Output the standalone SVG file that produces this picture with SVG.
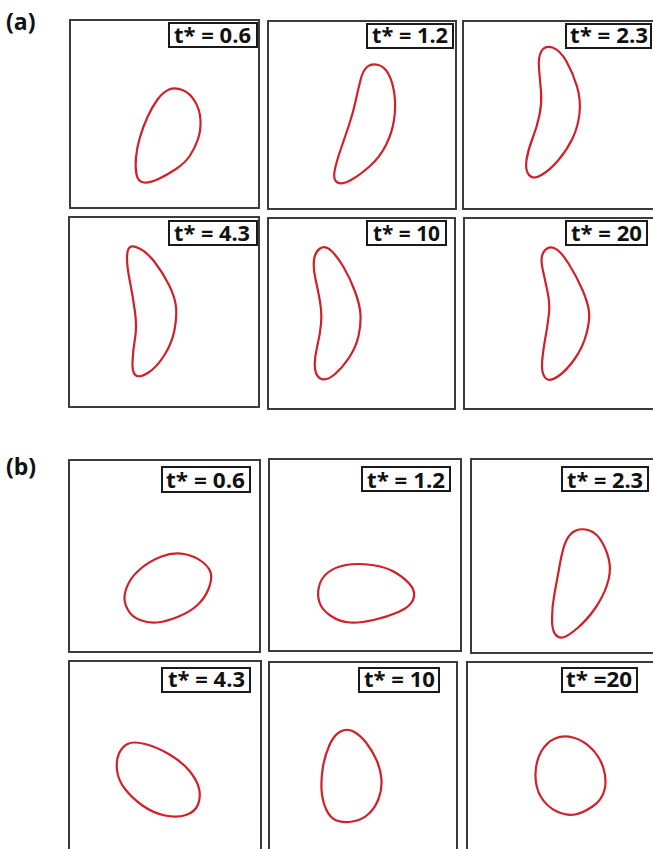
<svg xmlns="http://www.w3.org/2000/svg" width="653" height="849" viewBox="0 0 653 849">
<style>
.panel{fill:#fff;stroke:#3c3c3c;stroke-width:2}
.lbox{fill:#fff;stroke:#1a1a1a;stroke-width:2}
.lbl{font-family:"Open Sans","DejaVu Sans",sans-serif;font-weight:bold;font-size:22px;fill:#111}
.tag{font-family:"Open Sans","DejaVu Sans",sans-serif;font-weight:bold;font-size:23px;fill:#111}
.shape{fill:none;stroke:#d0202a;stroke-width:2.2;stroke-linejoin:round}
</style>
<rect width="653" height="849" fill="#fff"/>
<text class="tag" x="6" y="30">(a)</text>
<text class="tag" x="6" y="475">(b)</text>

<g id="a1">
<rect class="panel" x="70" y="20" width="189" height="188"/>
<rect class="lbox" x="169" y="23" width="88" height="24"/>
<text class="lbl" x="174" y="43" textLength="77" lengthAdjust="spacingAndGlyphs">t* = 0.6</text>
<path class="shape" d="M 182.5,90 Q 190,93 195,101.5 Q 200,110 200.5,120 Q 201,130 198,139 Q 195,148 190,155.5 Q 185,163 176,169 Q 167,175 158.5,179 Q 150,183 144,182.5 Q 138,182 136.5,174.5 Q 135,167 136,157 Q 137,147 140,137 Q 143,127 147.5,117 Q 152,107 157.5,99.5 Q 163,92 169,89.5 Q 175,87 182.5,90 Z"/>
</g>
<g id="a2">
<rect class="panel" x="268" y="21" width="188" height="188"/>
<rect class="lbox" x="367" y="24" width="86" height="24"/>
<text class="lbl" x="372" y="43" textLength="76" lengthAdjust="spacingAndGlyphs">t* = 1.2</text>
<path class="shape" d="M 378.5,65 Q 385,67 389,75 Q 393,83 394.5,95 Q 396,107 394,120 Q 392,133 386,145 Q 380,157 370,166 Q 360,175 351,180 Q 342,185 337.5,182.5 Q 333,180 334.5,171.5 Q 336,163 340.5,150 Q 345,137 349,125 Q 353,113 355.5,101.5 Q 358,90 360.5,80 Q 363,70 367.5,66.5 Q 372,63 378.5,65 Z"/>
</g>
<g id="a3">
<rect class="panel" x="463" y="21" width="200" height="188"/>
<rect class="lbox" x="566" y="24" width="85" height="24"/>
<text class="lbl" x="570" y="43" textLength="78" lengthAdjust="spacingAndGlyphs">t* = 2.3</text>
<path class="shape" d="M 552.5,47.5 Q 560,50 566.5,61.5 Q 573,73 577,86.5 Q 581,100 579.5,113.5 Q 578,127 572.5,138.5 Q 567,150 558.5,160 Q 550,170 541.5,175 Q 533,180 529,175 Q 525,170 526.5,160 Q 528,150 532.5,138.5 Q 537,127 539.5,115 Q 542,103 541,91.5 Q 540,80 539,68.5 Q 538,57 541.5,51 Q 545,45 552.5,47.5 Z"/>
</g>
<g id="a4">
<rect class="panel" x="69" y="217" width="190" height="190"/>
<rect class="lbox" x="169" y="221" width="88" height="24"/>
<text class="lbl" x="174" y="241" textLength="76" lengthAdjust="spacingAndGlyphs">t* = 4.3</text>
<path class="shape" d="M 139.5,248.5 Q 147,252 155,262.5 Q 163,273 169,285 Q 175,297 176,307 Q 177,317 174.5,330 Q 172,343 164.5,355 Q 157,367 148.5,372.5 Q 140,378 136,375.5 Q 132,373 132.5,361.5 Q 133,350 135,338.5 Q 137,327 135,312 Q 133,297 130,282 Q 127,267 127,258.5 Q 127,250 129.5,247.5 Q 132,245 139.5,248.5 Z"/>
</g>
<g id="a5">
<rect class="panel" x="268" y="218" width="187" height="191"/>
<rect class="lbox" x="367" y="221" width="79" height="24"/>
<text class="lbl" x="373" y="241" textLength="67" lengthAdjust="spacingAndGlyphs">t* = 10</text>
<path class="shape" d="M 331,250.5 Q 337,256 343.5,267 Q 350,278 355,291.5 Q 360,305 360.5,315 Q 361,325 358.5,336 Q 356,347 349.5,357 Q 343,367 335,374 Q 327,381 321.5,379 Q 316,377 315,368.5 Q 314,360 317,347.5 Q 320,335 321,324 Q 322,313 320,301.5 Q 318,290 315.5,279 Q 313,268 314,260 Q 315,252 320,248.5 Q 325,245 331,250.5 Z"/>
</g>
<g id="a6">
<rect class="panel" x="464" y="218" width="200" height="191"/>
<rect class="lbox" x="566" y="221" width="81" height="24"/>
<text class="lbl" x="571" y="241" textLength="71" lengthAdjust="spacingAndGlyphs">t* = 20</text>
<path class="shape" d="M 554,248 Q 560,250 568.5,263.5 Q 577,277 582.5,290 Q 588,303 589,311.5 Q 590,320 586.5,333.5 Q 583,347 575,358.5 Q 567,370 558.5,376 Q 550,382 546,378.5 Q 542,375 542,366 Q 542,357 545,340 Q 548,323 549,313 Q 550,303 547.5,291.5 Q 545,280 542.5,268.5 Q 540,257 544,251.5 Q 548,246 554,248 Z"/>
</g>

<g id="b1">
<rect class="panel" x="69" y="460" width="191" height="192"/>
<rect class="lbox" x="162" y="467" width="88" height="25"/>
<text class="lbl" x="166" y="488" textLength="79" lengthAdjust="spacingAndGlyphs">t* = 0.6</text>
<path class="shape" d="M 184,554 Q 195,556 202.5,562 Q 210,568 211,574 Q 212,580 208.5,589 Q 205,598 197.5,605 Q 190,612 177.5,617 Q 165,622 156.5,622.5 Q 148,623 140,620 Q 132,617 128,610 Q 124,603 124.5,596.5 Q 125,590 129,582.5 Q 133,575 141.5,568 Q 150,561 161.5,556.5 Q 173,552 184,554 Z"/>
</g>
<g id="b2">
<rect class="panel" x="269" y="459" width="192" height="192"/>
<rect class="lbox" x="362" y="467" width="88" height="24"/>
<text class="lbl" x="367" y="488" textLength="78" lengthAdjust="spacingAndGlyphs">t* = 1.2</text>
<path class="shape" d="M 372,565 Q 387,567 397,573.5 Q 407,580 411.5,586.5 Q 416,593 413,600 Q 410,607 398.5,612 Q 387,617 373.5,620 Q 360,623 350,622.5 Q 340,622 331,616 Q 322,610 319.5,602.5 Q 317,595 319,586.5 Q 321,578 328,572.5 Q 335,567 346,565 Q 357,563 372,565 Z"/>
</g>
<g id="b3">
<rect class="panel" x="471" y="459" width="200" height="194"/>
<rect class="lbox" x="562" y="467" width="86" height="24"/>
<text class="lbl" x="567" y="488" textLength="76" lengthAdjust="spacingAndGlyphs">t* = 2.3</text>
<path class="shape" d="M 589.5,530.5 Q 597,533 602.5,543 Q 608,553 609.5,563 Q 611,573 607,585 Q 603,597 595,608.5 Q 587,620 577,628.5 Q 567,637 562.5,637.5 Q 558,638 555,634 Q 552,630 552,618.5 Q 552,607 554.5,593.5 Q 557,580 560,563.5 Q 563,547 566.5,540 Q 570,533 576,530.5 Q 582,528 589.5,530.5 Z"/>
</g>
<g id="b4">
<rect class="panel" x="69" y="661" width="192" height="200"/>
<rect class="lbox" x="162" y="668" width="88" height="24"/>
<text class="lbl" x="168" y="687" textLength="77" lengthAdjust="spacingAndGlyphs">t* = 4.3</text>
<path class="shape" d="M 145,744 Q 157,747 169.5,754.5 Q 182,762 189.5,771 Q 197,780 199,788.5 Q 201,797 198,804.5 Q 195,812 186,815 Q 177,818 165,815.5 Q 153,813 142.5,805.5 Q 132,798 125,789 Q 118,780 117,770 Q 116,760 119,753.5 Q 122,747 127.5,744 Q 133,741 145,744 Z"/>
</g>
<g id="b5">
<rect class="panel" x="269" y="662" width="188" height="200"/>
<rect class="lbox" x="359" y="668" width="80" height="24"/>
<text class="lbl" x="364" y="687" textLength="71" lengthAdjust="spacingAndGlyphs">t* = 10</text>
<path class="shape" d="M 353.5,731.5 Q 360,735 366,742.5 Q 372,750 376.5,760 Q 381,770 381.5,780 Q 382,790 378.5,799 Q 375,808 368.5,814 Q 362,820 352.5,821.5 Q 343,823 336.5,820.5 Q 330,818 326,809 Q 322,800 321.5,789 Q 321,778 323,766.5 Q 325,755 329.5,745 Q 334,735 340.5,731.5 Q 347,728 353.5,731.5 Z"/>
</g>
<g id="b6">
<rect class="panel" x="467" y="662" width="200" height="200"/>
<rect class="lbox" x="562" y="668" width="75" height="24"/>
<text class="lbl" x="566" y="687" textLength="66" lengthAdjust="spacingAndGlyphs">t* =20</text>
<path class="shape" d="M 573,737.5 Q 583,740 591.5,748.5 Q 600,757 603.5,768.5 Q 607,780 604.5,790 Q 602,800 592.5,806.5 Q 583,813 575,814.5 Q 567,816 557,811.5 Q 547,807 541,797 Q 535,787 535.5,773.5 Q 536,760 541.5,751 Q 547,742 555,738.5 Q 563,735 573,737.5 Z"/>
</g>
<g id="connectors"/>
</svg>
